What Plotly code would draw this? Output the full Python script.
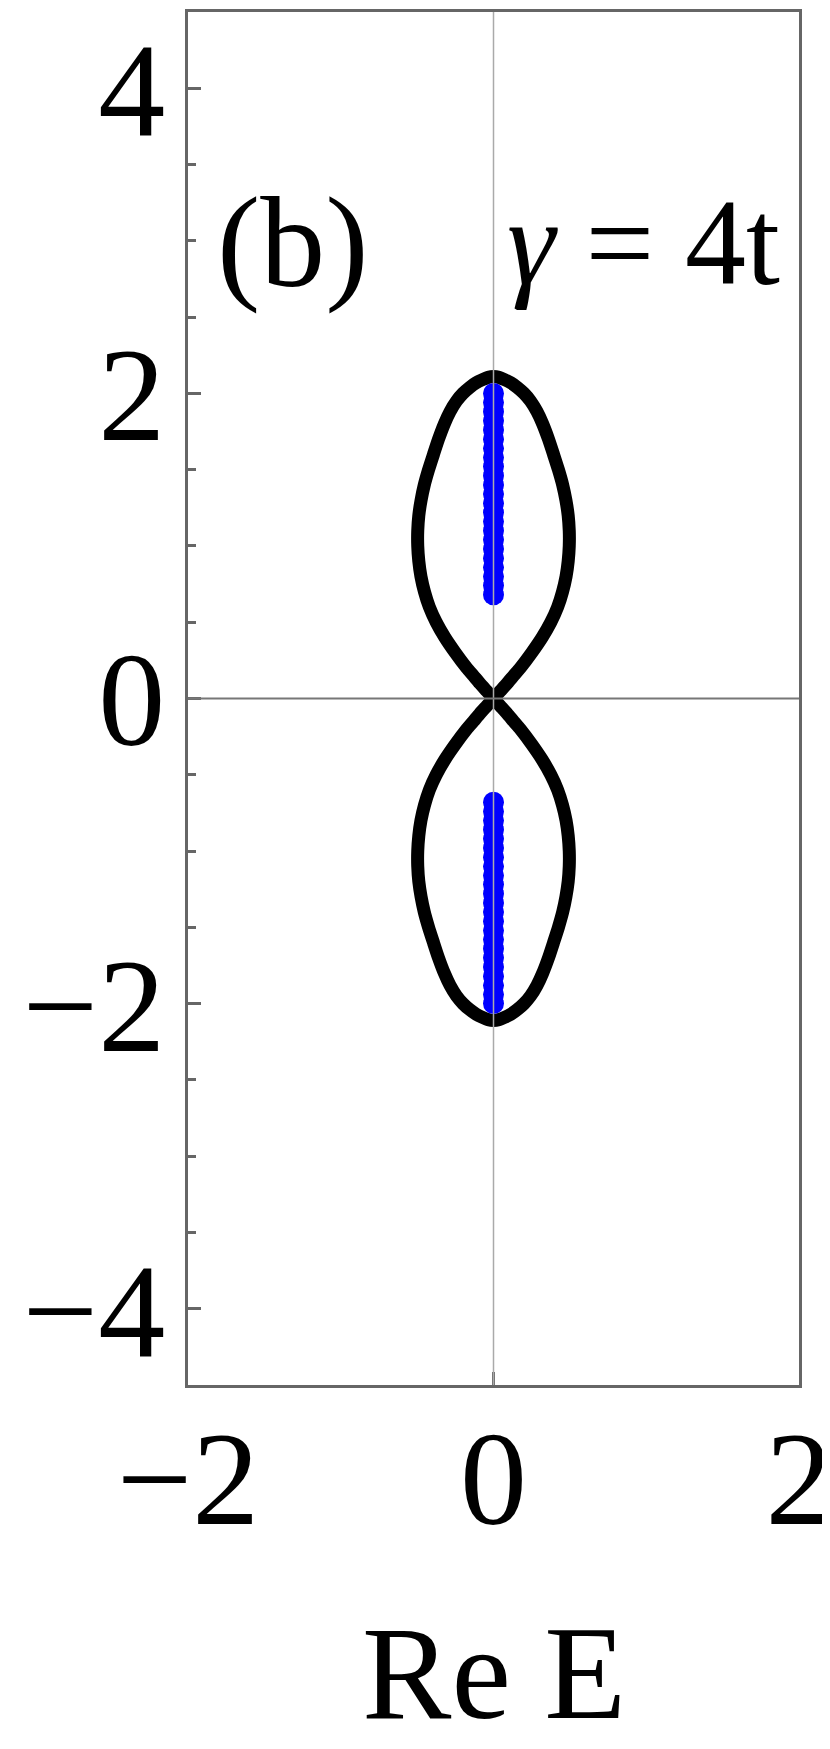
import plotly.graph_objects as go

# PBC spectrum (figure-eight loop), traced in four pieces
upper_right_re = [0.000, 0.045, 0.090, 0.132, 0.175, 0.250, 0.318, 0.375, 0.420, 0.452, 0.475, 0.489, 0.496,
                  0.496, 0.489, 0.474, 0.453, 0.425, 0.393, 0.360, 0.322, 0.285, 0.242, 0.200, 0.155, 0.112,
                  0.072, 0.035, 0.000]
upper_right_im = [0.00, 0.05, 0.10, 0.15, 0.20, 0.30, 0.40, 0.50, 0.60, 0.70, 0.80, 0.90, 1.00,
                  1.10, 1.20, 1.30, 1.40, 1.50, 1.60, 1.70, 1.80, 1.88, 1.95, 2.00, 2.04, 2.07,
                  2.09, 2.105, 2.11]

upper_left_re = [-0.035, -0.072, -0.112, -0.155, -0.200, -0.242, -0.285, -0.322, -0.360, -0.393, -0.425, -0.453,
                 -0.474, -0.489, -0.496, -0.496, -0.489, -0.475, -0.452, -0.420, -0.375, -0.318, -0.250, -0.175,
                 -0.132, -0.090, -0.045, 0.000]
upper_left_im = [2.105, 2.09, 2.07, 2.04, 2.00, 1.95, 1.88, 1.80, 1.70, 1.60, 1.50, 1.40,
                 1.30, 1.20, 1.10, 1.00, 0.90, 0.80, 0.70, 0.60, 0.50, 0.40, 0.30, 0.20,
                 0.15, 0.10, 0.05, 0.00]

lower_right_re = [0.045, 0.090, 0.132, 0.175, 0.250, 0.318, 0.375, 0.420, 0.452, 0.475, 0.489, 0.496, 0.496,
                  0.489, 0.474, 0.453, 0.425, 0.393, 0.360, 0.322, 0.285, 0.242, 0.200, 0.155, 0.112,
                  0.072, 0.035, 0.000]
lower_right_im = [-0.05, -0.10, -0.15, -0.20, -0.30, -0.40, -0.50, -0.60, -0.70, -0.80, -0.90, -1.00, -1.10,
                  -1.20, -1.30, -1.40, -1.50, -1.60, -1.70, -1.80, -1.88, -1.95, -2.00, -2.04, -2.07,
                  -2.09, -2.105, -2.11]

lower_left_re = [-0.035, -0.072, -0.112, -0.155, -0.200, -0.242, -0.285, -0.322, -0.360, -0.393, -0.425, -0.453,
                 -0.474, -0.489, -0.496, -0.496, -0.489, -0.475, -0.452, -0.420, -0.375, -0.318, -0.250, -0.175,
                 -0.132, -0.090, -0.045, 0.000]
lower_left_im = [-2.105, -2.09, -2.07, -2.04, -2.00, -1.95, -1.88, -1.80, -1.70, -1.60, -1.50, -1.40,
                 -1.30, -1.20, -1.10, -1.00, -0.90, -0.80, -0.70, -0.60, -0.50, -0.40, -0.30, -0.20,
                 -0.15, -0.10, -0.05, 0.00]

# OBC eigenvalues (blue points on the imaginary axis)
obc_im = [
    0.68, 0.74, 0.80, 0.86, 0.92, 0.98, 1.04, 1.10, 1.16, 1.22, 1.28, 1.34,
    1.40, 1.46, 1.52, 1.58, 1.64, 1.70, 1.76, 1.82, 1.88, 1.94, 2.00,
    -0.68, -0.74, -0.80, -0.86, -0.92, -0.98, -1.04, -1.10, -1.16, -1.22, -1.28, -1.34,
    -1.40, -1.46, -1.52, -1.58, -1.64, -1.70, -1.76, -1.82, -1.88, -1.94, -2.00,
]
obc_re = [0.0] * len(obc_im)

x_ticks = [-2, 0, 2]
y_ticks = [-4, -2, 0, 2, 4]

FONT = "Liberation Serif, Times New Roman, serif"
FRAME = "#666666"


def build_figure():
    pbc_re = upper_right_re + upper_left_re + lower_right_re + lower_left_re
    pbc_im = upper_right_im + upper_left_im + lower_right_im + lower_left_im

    fig = go.Figure()

    fig.add_trace(go.Scatter(
        x=pbc_re, y=pbc_im, mode="lines",
        line=dict(color="black", width=13, shape="spline", smoothing=0.6),
        hoverinfo="skip", showlegend=False,
    ))
    fig.add_trace(go.Scatter(
        x=obc_re, y=obc_im, mode="markers",
        marker=dict(color="#0000ff", size=21, line=dict(width=0)),
        hoverinfo="skip", showlegend=False,
    ))

    # axes through the origin, drawn over the data like in the original
    fig.add_shape(type="line", xref="x", yref="paper", x0=0, x1=0, y0=0, y1=1,
                  line=dict(color="#aaaaaa", width=1.5), layer="above")
    fig.add_shape(type="line", xref="paper", yref="y", x0=0, x1=1, y0=0, y1=0,
                  line=dict(color="#777777", width=2), layer="above")

    fig.add_annotation(x=-1.31, y=2.99, xref="x", yref="y", text="(b)", showarrow=False,
                       font=dict(family=FONT, size=130, color="black"),
                       xanchor="center", yanchor="middle")
    fig.add_annotation(x=0.985, y=2.99, xref="x", yref="y", text="<i>γ</i> = 4t", showarrow=False,
                       font=dict(family=FONT, size=122, color="black"),
                       xanchor="center", yanchor="middle")
    fig.add_annotation(x=0.5, y=-0.2098, xref="paper", yref="paper", text="Re E", showarrow=False,
                       font=dict(family=FONT, size=134, color="black"),
                       xanchor="center", yanchor="middle")

    fig.update_xaxes(
        range=[-2, 2], tickvals=x_ticks, ticks="inside", ticklen=13, tickwidth=2.5, tickcolor=FRAME,
        showline=True, mirror=True, linecolor=FRAME, linewidth=3,
        showgrid=False, zeroline=False, automargin=False, ticklabelstandoff=-25,
        tickfont=dict(family=FONT, size=134, color="black"),
    )
    fig.update_yaxes(
        range=[-4.5, 4.5], tickvals=y_ticks, ticks="inside", ticklen=13, tickwidth=2.5, tickcolor=FRAME,
        minor=dict(dtick=0.5, ticks="inside", ticklen=8, tickwidth=2.5, tickcolor=FRAME, showgrid=False),
        showline=True, mirror=True, linecolor=FRAME, linewidth=3,
        showgrid=False, zeroline=False, automargin=False, ticklabelstandoff=-7,
        tickfont=dict(family=FONT, size=134, color="black"),
    )

    fig.update_layout(
        width=830, height=1749, autosize=False,
        margin=dict(l=180, r=39, t=4, b=372),
        paper_bgcolor="white", plot_bgcolor="white",
        showlegend=False,
    )
    return fig


def main():
    fig = build_figure()
    fig.write_html("out.html")


if __name__ == "__main__":
    main()
